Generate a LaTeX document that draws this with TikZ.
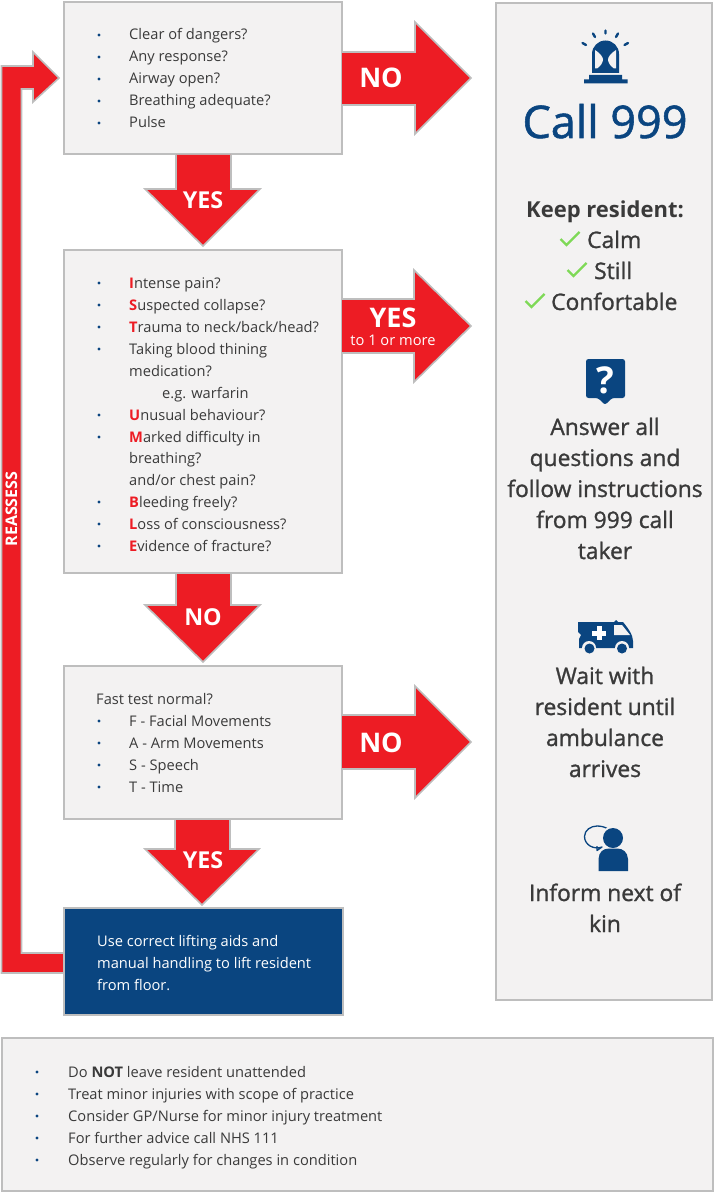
\documentclass[tikz,border=0pt]{standalone}
\usepackage{fontspec}
\setmainfont{Open Sans}
\newfontfamily\semi[FakeBold=1.2]{Open Sans}
\definecolor{redc}{HTML}{ED1C24}
\definecolor{bluec}{HTML}{0A4580}
\definecolor{edgec}{HTML}{BEBEBE}
\definecolor{panelc}{HTML}{F3F2F2}
\definecolor{textc}{HTML}{3A3A3A}
\definecolor{greenc}{HTML}{7ED957}
\newcommand{\bl}[2]{\node[dot] at (99,#1-5) {}; \node[bodytext] at (129,#1) {#2};}
\newcommand{\blb}[2]{\node[dot] at (37,#1-5) {}; \node[bodytext] at (68,#1) {#2};}
\newcommand{\rd}[1]{\textcolor{redc}{\textbf{#1}}}
\newcommand{\chk}[2]{\draw[greenc,line width=2.4pt] (#1-9.5,#2-1) -- (#1-3.5,#2+5) -- (#1+9.5,#2-8);}
\tikzset{
  panel/.style={draw=edgec,fill=panelc,line width=2pt,anchor=north west,inner sep=0pt},
  flow/.style={draw=edgec,fill=redc,line width=1.6pt,line join=miter},
  bodytext/.style={anchor=base west,font=\fontsize{14.65}{17}\selectfont,text=textc,inner sep=0pt},
  dot/.style={circle,fill=bluec,inner sep=0pt,minimum size=3.4pt},
  bigside/.style={anchor=base,font=\semi\fontsize{22.8}{26}\selectfont,text=textc,inner sep=0pt},
  arrowlabel/.style={anchor=base,font=\fontsize{27}{30}\selectfont\bfseries,text=white,inner sep=0pt},
  darrowlabel/.style={anchor=base,font=\fontsize{23.3}{26}\selectfont\bfseries,text=white,inner sep=0pt},
}
\begin{document}
\begin{tikzpicture}[x=1pt,y=-1pt]
\useasboundingbox (0,0) rectangle (714,1193);
% boxes
\node[panel,minimum width=278.5pt,minimum height=152.5pt] (b1) at (62.7,0.7) {};
\node[panel,minimum width=278.5pt,minimum height=323.5pt] (b2) at (62.7,248.5) {};
\node[panel,minimum width=278.5pt,minimum height=153.5pt] (b3) at (62.7,664.5) {};
\node[panel,minimum width=216.8pt,minimum height=997.5pt] (side) at (494.5,1.7) {};
\node[panel,minimum width=710.5pt,minimum height=152.5pt] (notes) at (1.2,1037.2) {};
% reassess arrow
\draw[flow] (64,973) -- (1.5,973) -- (1.5,66) -- (33,66) -- (33,52) -- (59,78) -- (33,102) -- (33,89) -- (21.5,89) -- (21.5,953) -- (64,953);
\node[panel,fill=bluec,minimum width=278.5pt,minimum height=106.7pt] (b4) at (63,907.3) {};
\node[rotate=90,anchor=base,font=\fontsize{16}{18}\selectfont\bfseries,text=white,inner sep=0pt] (rl) at (17,509) {REASSESS};
% right arrows
\draw[flow] (342,52) -- (415,52) -- (415,22) -- (471,78) -- (415,134) -- (415,105) -- (342,105);
\draw[flow] (342,299) -- (414,299) -- (414,270) -- (471,326) -- (414,382) -- (414,353) -- (342,353);
\draw[flow] (342,715) -- (415,715) -- (415,686) -- (471,742) -- (415,798) -- (415,769) -- (342,769);
% down arrows
\draw[flow] (176,155) -- (176,189) -- (145,189) -- (203,246) -- (260,189) -- (231,189) -- (231,155);
\draw[flow] (176,574) -- (176,605) -- (145,605) -- (203,662) -- (260,605) -- (231,605) -- (231,574);
\draw[flow] (175,820) -- (175,849) -- (145,849) -- (202,905) -- (259,849) -- (230,849) -- (230,820);
% arrow labels
\node[arrowlabel] (a1) at (381,88) {NO};
\node[arrowlabel] (a2) at (393,327) {YES};
\node[anchor=base,font=\fontsize{14.65}{17}\selectfont,text=white,inner sep=0pt] (a2b) at (393,345) {to 1 or more};
\node[arrowlabel] (a3) at (381,752) {NO};
\node[darrowlabel] (d1) at (203,208) {YES};
\node[darrowlabel] (d2) at (203,625) {NO};
\node[darrowlabel] (d3) at (203,868) {YES};
% box 1
\bl{40}{Clear of dangers?}
\bl{62}{Any response?}
\bl{84}{Airway open?}
\bl{106}{Breathing adequate?}
\bl{128}{Pulse}
% box 2
\bl{288}{\rd{I}ntense pain?}
\bl{310}{\rd{S}uspected collapse?}
\bl{332}{\rd{T}rauma to neck/back/head?}
\bl{354}{Taking blood thining}
\node[bodytext] (t1) at (129,376) {medication?};
\node[bodytext] (t2) at (162,398) {e.g. warfarin};
\bl{420}{\rd{U}nusual behaviour?}
\bl{442}{\rd{M}arked difficulty in}
\node[bodytext] (t3) at (129,463) {breathing?};
\node[bodytext] (t4) at (129,485) {and/or chest pain?};
\bl{507}{\rd{B}leeding freely?}
\bl{529}{\rd{L}oss of consciousness?}
\bl{551}{\rd{E}vidence of fracture?}
% box 3
\node[bodytext] (t5) at (96,704) {Fast test normal?};
\bl{726}{F - Facial Movements}
\bl{748}{A - Arm Movements}
\bl{770}{S - Speech}
\bl{792}{T - Time}
% box 4
\node[bodytext,text=white] (t6) at (97,946) {Use correct lifting aids and};
\node[bodytext,text=white] (t7) at (97,968) {manual handling to lift resident};
\node[bodytext,text=white] (t8) at (97,990) {from floor.};
% notes
\blb{1077}{Do \textbf{NOT} leave resident unattended}
\blb{1099}{Treat minor injuries with scope of practice}
\blb{1121}{Consider GP/Nurse for minor injury treatment}
\blb{1143}{For further advice call NHS 111}
\blb{1165}{Observe regularly for changes in condition}
% side panel text
\node[anchor=base,font=\semi\fontsize{45}{50}\selectfont,text=bluec,inner sep=0pt] (c999) at (605,138) {Call 999};
\node[anchor=base,font=\fontsize{22}{26}\selectfont\bfseries,text=textc,inner sep=0pt] (k0) at (605,218) {Keep resident:};
\node[bigside,anchor=base west] (k1) at (587,248) {Calm};
\node[bigside,anchor=base west] (k2) at (594,279) {Still};
\node[bigside,anchor=base west] (k3) at (551,310) {Confortable};
\chk{570}{240}
\chk{577}{271}
\chk{535}{302}
\node[bigside] (s1) at (605,435) {Answer all};
\node[bigside] (s2) at (605,466) {questions and};
\node[bigside] (s3) at (605,497) {follow instructions};
\node[bigside] (s4) at (605,528) {from 999 call};
\node[bigside] (s5) at (605,559) {taker};
\node[bigside] (s6) at (605,684) {Wait with};
\node[bigside] (s7) at (605,715) {resident until};
\node[bigside] (s8) at (605,746) {ambulance};
\node[bigside] (s9) at (605,777) {arrives};
\node[bigside] (s10) at (605,901) {Inform next of};
\node[bigside] (s11) at (605,932) {kin};
% siren icon
\fill[bluec] (584,83.5) -- (584,79.5) -- (589,79.5) -- (589,75) -- (622,75) -- (622,79.5) -- (627.5,79.5) -- (627.5,83.5) -- cycle;
\fill[bluec] (592,73) -- (592,54) arc[start angle=180,end angle=360,radius=13.5] -- (619,73) -- cycle;
\fill[panelc] (595,50) .. controls (600,53) and (603,57) .. (603,59.5) .. controls (603,62) and (601,66) .. (597,68.5) -- (595,68.5) -- cycle;
\fill[panelc] (616,50) .. controls (611,53) and (608,57) .. (608,59.5) .. controls (608,62) and (610,66) .. (614,68.5) -- (616,68.5) -- cycle;
\draw[bluec,line width=2.4pt,line cap=round] (605.5,30.5) -- (605.5,33.5) (593,33.5) -- (595,37) (618,33.5) -- (616,37) (582.5,43) -- (586,45) (628,43) -- (624.5,45);
% question icon
\fill[bluec,rounded corners=2.5pt] (586,359) -- (625,359) -- (625,398) -- (612,398) -- (605,405) -- (598,398) -- (586,398) -- cycle;
\node[font=\fontsize{37}{40}\selectfont\bfseries,text=white,inner sep=0pt] (q) at (605.5,380) {?};
% ambulance icon
\fill[bluec] (578,622) -- (614,622) -- (616,620) -- (618,622) -- (623,622) .. controls (628,628) and (633,635) .. (633,641) -- (633,648) -- (579,648) -- (579,639) -- (581,635) -- (578,632) -- cycle;
\fill[panelc] (589,648) circle (7);
\fill[panelc] (622,648) circle (7);
\fill[bluec] (589.5,648.5) circle (5);
\fill[bluec] (622,648.5) circle (5);
\fill[panelc] (614,625) -- (622,625) -- (630,635) -- (614,635) -- cycle;
\fill[white] (596.5,626) rectangle (601.5,640);
\fill[white] (592,630.5) rectangle (606,635.5);
% person icon
\draw[bluec,line width=1.3pt,line join=round] (597,846) -- (597,850.5) -- (602,847) .. controls (594,850) and (584.5,845) .. (584.5,836.5) .. controls (584.5,830) and (591,826) .. (597,826) .. controls (601,826) and (605,827) .. (608,829);
\fill[panelc] (613,838) circle (12);
\fill[bluec] (613,838) circle (10);
\fill[bluec] (598.5,871) -- (598.5,859) .. controls (599,852) and (603,848.5) .. (609,848.5) -- (617,848.5) .. controls (623,848.5) and (627.5,852) .. (628,859) -- (628,871) -- cycle;
\end{tikzpicture}
\end{document}
